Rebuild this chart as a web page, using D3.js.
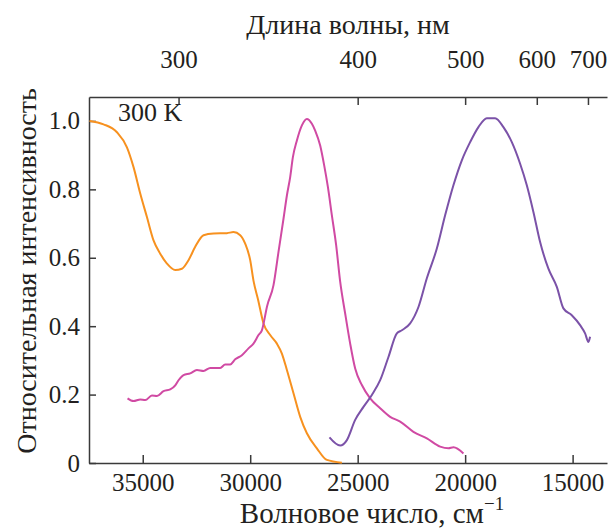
<!DOCTYPE html>
<html>
<head>
<meta charset="utf-8">
<script src="https://cdn.jsdelivr.net/npm/d3@7"></script>
<style>
	body { margin: 0; background: white; }
	svg text { font-family: "Liberation Serif", "DejaVu Serif", serif; fill: #231f20; }
</style>
</head>
<body>
<div id="viz"></div>
<script>

// Wavenumbers (cm^-1) and relative intensities
var orangeWn = [37474, 36823, 36200, 35735, 35428, 35116, 34805, 34498, 34186, 33874, 33488, 33177, 32870, 32558, 32172, 31707, 31084, 30777, 30465, 30233, 30000, 29850, 29628, 29381, 29070, 28758, 28526, 28293, 27986, 27674, 27363, 26898, 26433, 25735];
var orangeI = [1.0, 0.99, 0.967, 0.923, 0.865, 0.788, 0.719, 0.651, 0.612, 0.583, 0.564, 0.568, 0.593, 0.632, 0.666, 0.671, 0.672, 0.675, 0.666, 0.641, 0.593, 0.534, 0.476, 0.408, 0.374, 0.349, 0.32, 0.272, 0.204, 0.135, 0.087, 0.043, 0.009, 0.001];

var magentaWn = [35707, 35428, 35116, 34884, 34572, 34339, 34032, 33721, 33488, 33335, 33102, 32791, 32479, 32172, 31860, 31395, 31163, 30930, 30698, 30386, 30079, 29847, 29614, 29456, 29209, 28916, 28684, 28451, 28293, 28140, 28014, 27828, 27595, 27363, 27130, 26977, 26744, 26558, 26386, 26200, 26000, 25814, 25582, 25349, 25116, 24805, 24419, 23954, 23489, 23023, 22405, 21782, 21163, 20777, 20545, 20079];
var magentaI = [0.189, 0.181, 0.186, 0.184, 0.197, 0.196, 0.210, 0.215, 0.227, 0.242, 0.257, 0.262, 0.272, 0.269, 0.278, 0.278, 0.288, 0.288, 0.303, 0.315, 0.335, 0.349, 0.374, 0.388, 0.46, 0.52, 0.617, 0.714, 0.782, 0.836, 0.894, 0.943, 0.987, 1.006, 0.992, 0.972, 0.928, 0.870, 0.807, 0.724, 0.636, 0.53, 0.437, 0.349, 0.276, 0.228, 0.189, 0.160, 0.135, 0.121, 0.091, 0.072, 0.048, 0.043, 0.046, 0.028];

var purpleWn = [26312, 25814, 25502, 25116, 24730, 24340, 23954, 23568, 23177, 22944, 22558, 22172, 21782, 21317, 20931, 20545, 20154, 19768, 19382, 18991, 18605, 18219, 17828, 17442, 17131, 16824, 16512, 16126, 15735, 15428, 15038, 14652, 14419, 14265, 14187];
var purpleI = [0.075, 0.051, 0.067, 0.126, 0.164, 0.199, 0.242, 0.310, 0.379, 0.388, 0.408, 0.456, 0.540, 0.627, 0.724, 0.812, 0.885, 0.938, 0.982, 1.008, 1.008, 0.982, 0.938, 0.875, 0.812, 0.734, 0.646, 0.568, 0.515, 0.452, 0.432, 0.403, 0.379, 0.354, 0.369];

var wnTicks = [35000, 30000, 25000, 20000, 15000];
var nmTicks = [300, 400, 500, 600, 700];
var yTicks = [0, 0.2, 0.4, 0.6, 0.8, 1.0];

// Plot frame
var width = 608,
	height = 529,
	plotLeft = 89,
	plotRight = 607,
	plotTop = 97,
	plotBottom = 463;

var x = d3.scaleLinear([37500, 13400], [plotLeft, plotRight]),
	y = d3.scaleLinear([0, 1.07], [plotBottom, plotTop]);

var svg = d3.select("#viz")
	.append("svg")
	.attr("width", width)
	.attr("height", height);

// Axes (ticks point inwards)
svg.append("g")
	.attr("transform", `translate(0, ${plotBottom})`)
	.call(d3.axisBottom(x).tickValues(wnTicks).tickSizeInner(-8).tickSizeOuter(0).tickPadding(10).tickFormat(d3.format("d")));

svg.append("g")
	.attr("transform", `translate(0, ${plotTop})`)
	.call(d3.axisTop(x).tickValues(nmTicks.map(n => 1e7 / n)).tickSizeInner(-8).tickSizeOuter(0).tickPadding(29).tickFormat((d, i) => nmTicks[i]));

svg.append("g")
	.attr("transform", `translate(${plotLeft}, 0)`)
	.call(d3.axisLeft(y).tickValues(yTicks).tickSizeInner(-7).tickSizeOuter(0).tickPadding(9).tickFormat(d => d == 0 ? "0" : d.toFixed(1)));

svg.selectAll("g")
	.attr("font-family", "Liberation Serif");

svg.selectAll(".domain, .tick line")
	.style("stroke", "#3a3a3a")
	.style("stroke-width", 1.5);

svg.selectAll(".tick text")
	.style("font-family", "Liberation Serif")
	.style("font-size", "25px")
	.style("fill", "#231f20");

// Lines
var series = [
	{wn: orangeWn, val: orangeI, color: "#f7911f"},
	{wn: magentaWn, val: magentaI, color: "#d04aa3"},
	{wn: purpleWn, val: purpleI, color: "#7b52a8"}
];

var line = d3.line()
	.x(d => x(d[0]))
	.y(d => y(d[1]))
	.curve(d3.curveMonotoneX);

svg.selectAll(".series")
	.data(series)
	.enter()
	.append("path")
	.attr("class", "series")
	.attr("d", d => line(d.wn.map((w, i) => [w, d.val[i]])))
	.style("fill", "none")
	.style("stroke", d => d.color)
	.style("stroke-width", 2);

// Labels
svg.append("text")
	.attr("x", 118)
	.attr("y", 121)
	.style("font-size", "26px")
	.text("300 K");

svg.append("text")
	.attr("x", 348)
	.attr("y", 34)
	.attr("text-anchor", "middle")
	.style("font-size", "28px")
	.text("Длина волны, нм");

var xLabel = svg.append("text")
	.attr("x", 372)
	.attr("y", 523)
	.attr("text-anchor", "middle")
	.style("font-size", "29px");
xLabel.append("tspan").text("Волновое число, см");
xLabel.append("tspan").attr("dy", -13).style("font-size", "19px").text("−1");

svg.append("text")
	.attr("transform", `translate(36, 271) rotate(-90)`)
	.attr("text-anchor", "middle")
	.style("font-size", "28px")
	.text("Относительная интенсивность");

</script>
</body>
</html>
